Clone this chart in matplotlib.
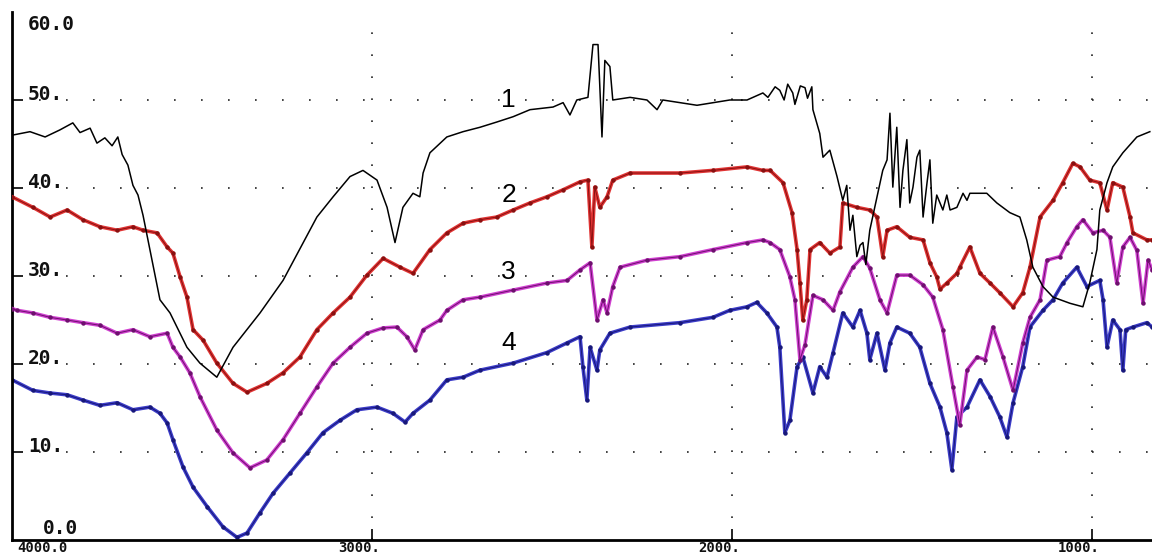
import matplotlib
matplotlib.use('Agg')
import matplotlib.pyplot as plt

# curve 1 (black)
wn1 = [4000, 3950, 3908, 3867, 3831, 3811, 3783, 3764, 3742, 3722, 3706, 3694, 3678, 3664, 3650,
       3636, 3617, 3603, 3589, 3561, 3514, 3478, 3431, 3386, 3311, 3247, 3153, 3108, 3061, 3025,
       2986, 2958, 2936, 2914, 2886, 2867, 2858, 2839, 2792, 2747, 2700, 2653, 2608, 2561, 2497,
       2469, 2450, 2431, 2400, 2386, 2372, 2361, 2353, 2339, 2331, 2283, 2236, 2208, 2192, 2097,
       2006, 1958, 1914, 1900, 1880, 1867, 1855, 1845, 1831, 1825, 1810, 1797, 1790, 1778, 1775,
       1756, 1747, 1728, 1708, 1692, 1681, 1672,
       1664, 1653, 1644, 1636, 1628, 1617, 1597, 1581, 1569, 1561, 1553, 1542, 1533, 1525, 1514,
       1506, 1497, 1486, 1478, 1469, 1458, 1450, 1442, 1431, 1414, 1403, 1394, 1375, 1358, 1347,
       1339, 1292, 1264, 1228, 1200, 1181, 1164, 1136, 1108, 1061, 1025, 1006, 986, 978, 958,
       942, 914, 875, 839]
t1 = [46.0, 46.4, 45.8, 46.6, 47.4, 46.3, 46.8, 45.1, 45.7, 44.8, 45.8, 43.8, 42.6, 40.3, 39.2,
      36.9, 33.0, 30.1, 27.3, 25.8, 21.9, 20.1, 18.5, 21.9, 25.8, 29.5, 36.7, 39.0, 41.3, 42.0,
      40.9, 37.8, 33.8, 37.8, 39.4, 39.0, 41.7, 44.0, 45.8, 46.4, 46.9, 47.5, 48.1, 48.9, 49.2,
      49.7, 48.3, 50.0, 50.3, 56.3, 56.3, 45.8, 54.5, 53.8, 50.0, 50.3, 50.0, 48.9, 50.0, 49.4,
      50.0, 50.0, 50.8, 50.3, 51.5, 51.1, 50.0, 51.8, 50.8, 49.5, 51.6, 51.4, 50.2, 51.5, 48.9,
      46.2, 43.5, 44.3, 41.3, 38.6, 40.3, 35.2,
      36.9, 32.2, 33.5, 33.8, 31.3, 35.2, 39.0, 42.0, 43.2, 48.5, 40.1, 46.9, 37.8, 42.0, 45.5,
      38.3, 40.1, 43.5, 44.3, 36.7, 40.6, 43.2, 36.0, 39.2, 37.5, 39.2, 37.5, 37.8, 39.4, 38.6,
      39.4, 39.4, 38.3, 37.2, 36.7, 34.1, 31.0, 28.8, 27.6, 26.9, 26.5, 29.2, 33.0, 37.5, 40.6,
      42.4, 44.0, 45.8, 46.4]

# curve 2 (red)
wn2 = [4000, 3942, 3894, 3847, 3803, 3756, 3708, 3664, 3636, 3597, 3569, 3553, 3533, 3514, 3497,
       3469, 3431, 3386, 3347, 3292, 3247, 3200, 3153, 3108, 3061, 3014, 2969, 2922, 2886, 2839,
       2792, 2747, 2700, 2653, 2608, 2561, 2514, 2469, 2422, 2400, 2389, 2381, 2367, 2347, 2331,
       2283, 2144, 2053, 1958, 1914, 1894, 1858, 1833, 1819, 1811, 1803, 1792, 1783, 1756, 1728,
       1700, 1692, 1653, 1617, 1597, 1581, 1569, 1542, 1506, 1469, 1450, 1431, 1422, 1403, 1375,
       1367, 1339, 1311, 1283, 1256, 1219, 1192, 1172, 1144, 1108, 1081, 1053, 1033, 1006, 978,
       958, 942, 914, 894, 886, 847, 833]
t2 = [39.0, 37.8, 36.7, 37.5, 36.4, 35.6, 35.2, 35.6, 35.2, 34.9, 33.3, 32.6, 29.9, 27.6, 23.9,
      22.7, 20.1, 17.8, 16.8, 17.8, 19.0, 20.8, 23.9, 25.8, 27.6, 30.1, 32.0, 31.0, 30.3, 33.0,
      34.9, 36.0, 36.4, 36.7, 37.5, 38.3, 39.0, 39.8, 40.7, 40.9, 33.3, 40.1, 37.8, 39.0, 40.9,
      41.7, 41.7, 42.0, 42.4, 42.0, 42.0, 40.6, 37.2, 33.0, 29.2, 25.0, 27.3, 33.0, 33.8, 32.6,
      33.3, 38.3, 37.8, 37.5, 36.7, 32.2, 35.2, 35.6, 34.4, 34.1, 31.5, 29.9, 28.5, 29.2, 30.3,
      31.0, 33.3, 30.3, 29.2, 28.1, 26.5, 28.1, 31.0, 36.7, 38.6, 40.6, 42.8, 42.4, 40.9, 40.6,
      37.5, 40.6, 40.1, 36.7, 34.9, 34.1, 34.1]

# curve 3 (magenta)
wn3 = [4000, 3986, 3942, 3894, 3847, 3803, 3756, 3708, 3664, 3617, 3569, 3553, 3533, 3506, 3478,
       3431, 3386, 3339, 3292, 3247, 3200, 3153, 3108, 3061, 3014, 2969, 2931, 2903, 2881, 2858,
       2811, 2792, 2747, 2700, 2608, 2514, 2458, 2422, 2394, 2375, 2358, 2347, 2331, 2311, 2236,
       2144, 2053, 1958, 1914, 1894, 1867, 1839, 1825, 1811, 1797, 1775, 1747, 1719, 1700, 1664,
       1636, 1617, 1589, 1569, 1542, 1506, 1469, 1442, 1414, 1386, 1367, 1347, 1319, 1297, 1275,
       1247, 1219, 1192, 1172, 1144, 1125, 1089, 1069, 1042, 1025, 997, 969, 950, 931, 914,
       894, 875, 858, 844, 833]
t3 = [26.3, 26.1, 25.8, 25.3, 25.0, 24.7, 24.4, 23.5, 23.9, 23.1, 23.5, 21.9, 20.8, 19.0, 16.3,
      12.5, 9.9, 8.2, 9.1, 11.4, 14.4, 17.4, 20.1, 21.9, 23.5, 24.1, 24.2, 23.1, 21.6, 23.9,
      25.0, 26.1, 27.3, 27.6, 28.4, 29.2, 29.5, 30.7, 31.5, 25.0, 27.3, 25.8, 28.8, 31.0, 31.8,
      32.2, 33.0, 33.8, 34.1, 33.8, 33.0, 29.9, 27.3, 20.5, 22.2, 27.8, 27.3, 26.1, 28.2, 31.0,
      32.2, 30.9, 27.3, 25.8, 30.1, 30.1, 29.0, 27.6, 23.9, 17.4, 13.1, 19.3, 20.8, 20.5, 24.2,
      20.8, 17.0, 22.4, 25.3, 27.3, 31.8, 32.2, 33.8, 35.6, 36.4, 34.9, 35.2, 34.4, 29.2, 33.3,
      34.4, 32.9, 26.9, 31.8, 30.7]

# curve 4 (blue)
wn4 = [4000, 3942, 3894, 3847, 3803, 3756, 3708, 3664, 3617, 3589, 3569, 3553, 3525, 3497, 3458,
       3414, 3375, 3347, 3311, 3275, 3228, 3181, 3136, 3089, 3042, 2986, 2942, 2908, 2886, 2839,
       2792, 2747, 2700, 2608, 2514, 2458, 2422, 2414, 2403, 2394, 2375, 2367, 2339, 2283, 2144,
       2053, 2006, 1958, 1931, 1903, 1875, 1867, 1853, 1839, 1819, 1803, 1775, 1756, 1736, 1719,
       1692, 1664, 1644, 1625, 1617, 1597, 1575, 1561, 1542, 1506, 1478, 1450, 1422, 1403, 1389,
       1375, 1347, 1311, 1283, 1256, 1236, 1219, 1192, 1172, 1136, 1108, 1081, 1042, 1014, 978,
       969, 958, 942, 922, 914, 906, 886, 847, 833]
t4 = [18.2, 17.0, 16.7, 16.5, 15.9, 15.3, 15.6, 14.8, 15.1, 14.4, 13.3, 11.4, 8.3, 6.0, 3.8,
      1.5, 0.3, 0.8, 3.1, 5.3, 7.6, 9.9, 12.2, 13.6, 14.8, 15.1, 14.4, 13.4, 14.4, 15.9,
      18.2, 18.5, 19.3, 20.1, 21.3, 22.4, 23.1, 19.7, 15.9, 21.9, 19.3, 21.6, 23.5, 24.2, 24.7,
      25.3, 26.1, 26.5, 27.0, 25.8, 24.2, 21.9, 12.2, 13.6, 19.7, 20.8, 16.7, 19.7, 18.5, 21.3,
      25.8, 24.2, 26.1, 23.5, 20.5, 23.5, 19.3, 22.4, 24.2, 23.5, 21.9, 17.8, 15.1, 12.2, 8.0,
      14.0, 15.1, 18.2, 16.3, 14.0, 11.7, 15.6, 19.7, 24.2, 26.1, 27.3, 29.2, 31.0, 28.8, 29.5,
      27.3, 21.9, 25.0, 23.9, 19.3, 23.9, 24.2, 24.7, 24.2]

curve_names = ['1', '2', '3', '4']
label_pos = [(2620, 50.0), (2620, 39.2), (2620, 30.5), (2620, 22.4)]

xticks = [3000, 2000, 1000]
xticklabels = ['3000.', '2000.', '1000.']
yticks = [10, 20, 30, 40, 50]
yticklabels = ['0.0', '10.', '20.', '30.', '40.', '50.', '60.0']
ylabel_vals = [0, 10, 20, 30, 40, 50, 58]

fig = plt.figure(figsize=(11.52, 5.56), dpi=100)
ax = fig.add_axes([12 / 1152, 16 / 556, 1140 / 1152, 528 / 556])
ax.set_xlim(4000, 833)
ax.set_ylim(0, 60)

# dotted grid
for y in yticks:
    ax.axhline(y, color='#222222', lw=1.2, linestyle=(0, (1, 15.2)), zorder=0)
for x in xticks:
    ax.axvline(x, color='#222222', lw=1.2, linestyle=(0, (1, 12.2)), zorder=0)

# coloured spectra: thick band, darker core and speckles
styles = [(wn4, t4, '#3c3cc8', '#18187a', 2),
          (wn3, t3, '#d040d0', '#6e106e', 3),
          (wn2, t2, '#e03434', '#8a1010', 4)]
for wn, t, c, dark, z in styles:
    ax.plot(wn, t, color=c, lw=2.6, zorder=z)
    ax.plot(wn, t, color=dark, lw=0.7, marker='o', ms=2.2, mec=dark, mfc=dark, zorder=z)
ax.plot(wn1, t1, color='black', lw=1.1, zorder=5)

for name, (x, y) in zip(curve_names, label_pos):
    ax.text(x, y, name, fontsize=19, family='Liberation Sans', ha='center', va='center', zorder=6)

# axes frame
for s in ['top', 'right']:
    ax.spines[s].set_visible(False)
ax.spines['left'].set_linewidth(2)
ax.spines['bottom'].set_linewidth(2)
ax.set_xticks(xticks)
ax.set_yticks(yticks)
ax.tick_params(axis='both', direction='in', length=8, width=1.2,
               labelbottom=False, labelleft=False)

mono = dict(family='DejaVu Sans Mono', weight='bold', fontsize=14, color='#111111')
for lab, v in zip(yticklabels, ylabel_vals):
    if lab == '0.0':
        # sits on the axis line, lifted just enough to clear the x labels
        ax.text(3914, 0.25, lab, ha='left', va='bottom', clip_on=False, zorder=7, **mono)
    else:
        ax.text(3956, v, lab, ha='left', va='baseline', clip_on=False, zorder=7, **mono)

# x labels in the strip under the axis line, kept inside the figure
xmono = dict(mono, fontsize=10)
xtr = ax.get_xaxis_transform()
ybot = -15 / 528
ax.text(3986, ybot, '4000.0', ha='left', va='bottom', transform=xtr, clip_on=False, **xmono)
for x, lab in zip(xticks, xticklabels):
    ax.text(x - 22, ybot, lab, ha='right', va='bottom', transform=xtr, clip_on=False, **xmono)

plt.savefig('out.png', dpi=100)
plt.close()
